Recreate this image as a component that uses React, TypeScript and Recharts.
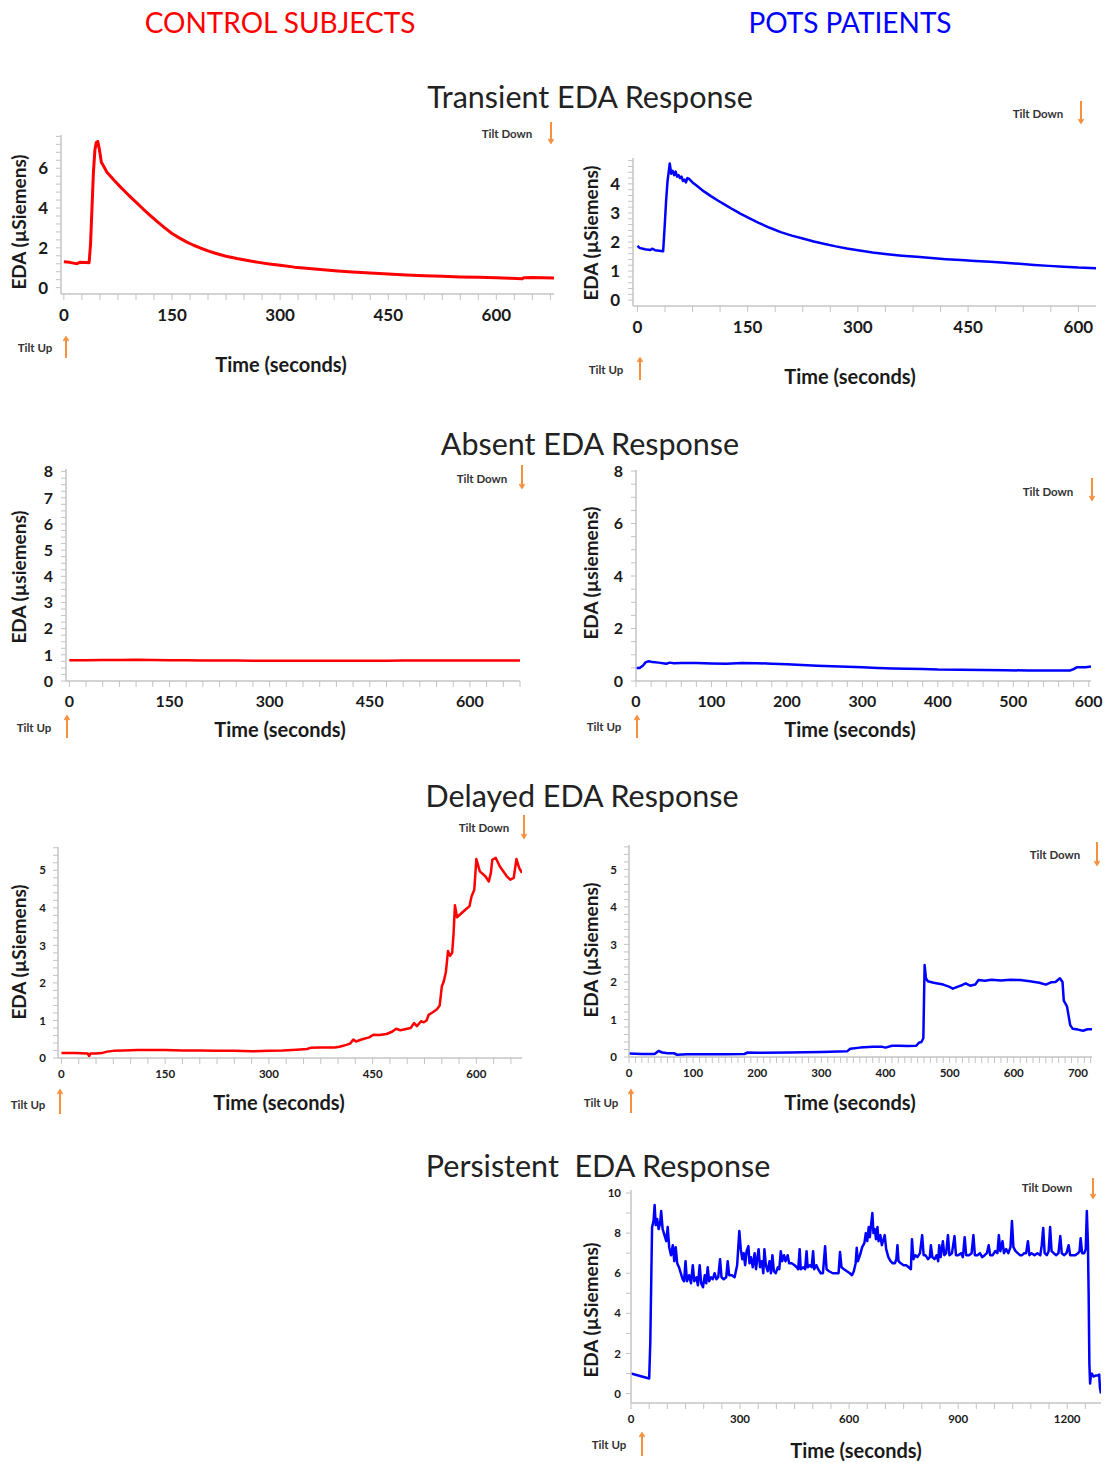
import React from 'react'
import { LineChart, Line, XAxis, YAxis } from 'recharts'

const FONT = 'Lato, "Open Sans", sans-serif'
const RED = '#ff0000'
const BLUE = '#0000ff'
const ORANGE = '#f5903f'
const AXIS = '#c4c4c4'

// [time (s), EDA (µS)]
const transientControl: [number, number][] = [
  [0, 1.3], [8, 1.27], [15, 1.22], [18, 1.2], [22, 1.27], [30, 1.26], [35, 1.25], [37, 2.2],
  [39, 4.0], [41, 5.8], [43, 6.9], [45, 7.3], [47, 7.35], [49, 7.0], [52, 6.3], [56, 6.05],
  [60, 5.78], [70, 5.38], [80, 5.0], [90, 4.64], [100, 4.3], [110, 3.95], [120, 3.62],
  [130, 3.3], [140, 3.0], [150, 2.72], [160, 2.5], [170, 2.3], [180, 2.13], [190, 1.98],
  [200, 1.85], [210, 1.73], [225, 1.58], [240, 1.46], [255, 1.36], [270, 1.27], [285, 1.19],
  [300, 1.12], [320, 1.03], [340, 0.96], [360, 0.9], [380, 0.84], [400, 0.79], [425, 0.73],
  [450, 0.68], [475, 0.64], [500, 0.6], [525, 0.57], [550, 0.54], [575, 0.52], [600, 0.5],
  [620, 0.47], [636, 0.45], [638, 0.5], [650, 0.51], [665, 0.5], [680, 0.49],
]

const transientPots: [number, number][] = [
  [0, 1.87], [3, 1.8], [10, 1.75], [18, 1.73], [20, 1.77], [24, 1.72], [30, 1.7], [35, 1.68],
  [37, 2.5], [39, 3.4], [41, 4.1], [43, 4.5], [44, 4.7], [46, 4.35], [48, 4.45], [50, 4.3],
  [52, 4.42], [54, 4.25], [56, 4.3], [58, 4.2], [60, 4.25], [62, 4.1], [64, 4.15], [66, 4.05],
  [68, 4.2], [70, 4.18], [75, 4.05], [80, 3.95], [90, 3.75], [100, 3.58], [110, 3.42],
  [120, 3.27], [130, 3.12], [140, 2.98], [150, 2.85], [165, 2.66], [180, 2.49], [195, 2.34],
  [210, 2.22], [225, 2.12], [240, 2.02], [255, 1.93], [270, 1.85], [285, 1.78], [300, 1.72],
  [320, 1.64], [340, 1.58], [360, 1.53], [380, 1.49], [400, 1.45], [420, 1.41], [440, 1.38],
  [460, 1.35], [480, 1.32], [500, 1.29], [520, 1.25], [540, 1.21], [560, 1.18], [580, 1.15],
  [600, 1.12], [624, 1.1],
]

const absentControl: [number, number][] = [
  [0, 0.79], [25, 0.79], [50, 0.8], [75, 0.8], [100, 0.81], [125, 0.8], [150, 0.79],
  [175, 0.79], [200, 0.78], [225, 0.78], [250, 0.78], [275, 0.77], [300, 0.77], [325, 0.77],
  [350, 0.77], [375, 0.77], [400, 0.77], [425, 0.77], [450, 0.77], [475, 0.77], [500, 0.78],
  [525, 0.78], [550, 0.78], [575, 0.78], [600, 0.78], [625, 0.78], [650, 0.78], [675, 0.78],
]

const absentPots: [number, number][] = [
  [0, 0.5], [5, 0.5], [9, 0.58], [13, 0.72], [17, 0.75], [22, 0.72], [30, 0.7], [40, 0.66],
  [45, 0.7], [50, 0.68], [60, 0.69], [80, 0.69], [100, 0.67], [120, 0.66], [140, 0.69],
  [160, 0.68], [180, 0.66], [200, 0.64], [220, 0.61], [240, 0.58], [260, 0.56], [280, 0.54],
  [300, 0.52], [320, 0.5], [340, 0.48], [360, 0.47], [380, 0.46], [400, 0.44], [430, 0.43],
  [460, 0.42], [490, 0.41], [520, 0.4], [550, 0.4], [575, 0.4], [580, 0.45], [584, 0.52],
  [590, 0.52], [596, 0.52], [603, 0.55],
]

const delayedControl: [number, number][] = [
  [0, 0.13], [20, 0.13], [38, 0.12], [40, 0.05], [42, 0.12], [50, 0.12], [58, 0.13],
  [66, 0.17], [75, 0.19], [90, 0.2], [110, 0.21], [130, 0.21], [150, 0.21], [175, 0.2],
  [200, 0.2], [225, 0.19], [250, 0.19], [275, 0.18], [300, 0.19], [320, 0.2], [340, 0.22],
  [355, 0.24], [360, 0.27], [375, 0.28], [395, 0.28], [402, 0.3], [412, 0.35], [418, 0.39],
  [422, 0.49], [426, 0.44], [435, 0.5], [445, 0.55], [451, 0.62], [460, 0.61], [470, 0.64],
  [478, 0.7], [484, 0.78], [490, 0.74], [500, 0.78], [505, 0.8], [510, 0.93], [514, 0.85],
  [520, 0.98], [524, 0.95], [528, 1.0], [531, 1.15], [537, 1.22], [543, 1.3], [547, 1.4],
  [550, 1.9], [553, 2.05], [556, 2.3], [559, 2.85], [562, 2.72], [565, 2.8], [567, 3.3],
  [569, 4.07], [572, 3.75], [578, 3.85], [584, 3.95], [590, 4.04], [593, 4.3], [597, 4.48],
  [600, 5.3], [605, 4.97], [613, 4.84], [618, 4.7], [621, 4.93], [623, 5.28], [628, 5.33],
  [634, 5.1], [644, 4.84], [649, 4.75], [654, 4.8], [658, 5.3], [662, 5.06], [666, 4.93],
]

const delayedPots: [number, number][] = [
  [0, 0.09], [20, 0.08], [40, 0.08], [46, 0.16], [52, 0.12], [60, 0.1], [70, 0.1], [75, 0.06],
  [90, 0.07], [120, 0.07], [150, 0.07], [180, 0.08], [185, 0.12], [200, 0.11], [250, 0.12],
  [300, 0.13], [340, 0.15], [345, 0.22], [360, 0.25], [380, 0.27], [395, 0.27], [400, 0.25],
  [410, 0.3], [420, 0.3], [435, 0.29], [448, 0.3], [452, 0.38], [456, 0.4], [459, 0.5],
  [460, 1.5], [461, 2.45], [463, 2.1], [466, 2.02], [475, 1.98], [490, 1.93], [500, 1.87],
  [505, 1.82], [512, 1.87], [520, 1.92], [525, 1.96], [532, 1.9], [540, 1.93], [545, 2.05],
  [555, 2.03], [565, 2.06], [580, 2.04], [595, 2.06], [610, 2.05], [625, 2.02], [640, 1.98],
  [650, 1.93], [658, 1.99], [665, 2.0], [672, 2.1], [676, 2.0], [678, 1.5], [683, 1.35],
  [688, 0.85], [692, 0.75], [700, 0.73], [708, 0.7], [715, 0.74], [722, 0.74],
]

const persistentPots: [number, number][] = [
  [0, 1.0], [20, 0.9], [40, 0.8], [50, 0.75], [53, 2.5], [56, 6.0], [58, 8.3], [62, 8.6],
  [65, 9.4], [68, 8.4], [72, 8.7], [76, 8.2], [80, 8.5], [83, 9.1], [87, 8.2], [92, 7.9],
  [97, 7.6], [101, 8.3], [105, 7.3], [110, 6.9], [115, 7.4], [119, 6.6], [123, 7.3],
  [127, 6.5], [132, 6.3], [137, 6.0], [142, 5.7], [146, 5.6], [150, 6.6], [154, 5.6],
  [160, 5.9], [165, 5.5], [170, 6.4], [174, 5.6], [180, 5.8], [184, 5.4], [189, 6.4],
  [193, 5.5], [198, 5.3], [203, 5.9], [207, 5.5], [211, 6.3], [215, 5.6], [220, 5.8],
  [225, 5.7], [230, 6.0], [235, 5.7], [240, 5.8], [245, 6.7], [249, 5.8], [255, 5.7],
  [262, 5.8], [266, 6.6], [270, 5.9], [278, 5.9], [285, 5.8], [292, 6.4], [298, 8.1],
  [302, 7.2], [306, 6.7], [310, 7.0], [314, 6.4], [318, 7.1], [323, 7.35], [326, 6.5],
  [330, 6.8], [335, 6.3], [340, 7.0], [344, 6.2], [348, 6.8], [351, 7.2], [355, 6.3],
  [360, 6.6], [364, 6.0], [367, 7.2], [371, 6.4], [376, 6.1], [381, 6.6], [385, 6.0],
  [389, 6.9], [393, 6.1], [398, 6.0], [404, 6.3], [408, 6.2], [412, 7.1], [416, 6.6],
  [421, 6.9], [425, 6.6], [431, 6.9], [435, 6.5], [442, 6.5], [450, 6.4], [456, 6.3],
  [460, 6.2], [464, 7.2], [467, 6.2], [474, 6.3], [479, 6.2], [483, 7.1], [486, 6.3],
  [492, 6.4], [497, 6.3], [501, 7.1], [504, 6.2], [510, 6.4], [515, 6.2], [522, 6.0],
  [528, 6.0], [534, 7.35], [538, 6.2], [545, 6.1], [555, 6.0], [565, 6.0], [571, 6.0],
  [575, 7.06], [579, 6.3], [586, 6.2], [594, 6.1], [602, 6.0], [608, 5.9], [613, 6.1],
  [618, 6.5], [621, 7.27], [624, 6.6], [630, 6.9], [636, 7.3], [642, 7.5], [646, 8.0],
  [650, 7.6], [654, 8.3], [657, 7.8], [661, 8.5], [664, 9.0], [667, 8.0], [671, 8.2],
  [674, 7.7], [678, 8.3], [681, 7.6], [686, 7.9], [690, 7.4], [695, 7.7], [698, 7.9],
  [702, 7.2], [708, 6.8], [714, 6.6], [720, 6.5], [726, 6.5], [730, 6.7], [733, 7.4],
  [736, 6.6], [742, 6.5], [750, 6.4], [757, 6.4], [764, 6.3], [770, 6.2], [773, 7.7],
  [777, 6.7], [782, 6.9], [788, 6.8], [795, 7.0], [801, 7.9], [805, 6.9], [810, 6.9],
  [817, 6.7], [822, 6.8], [825, 7.4], [829, 6.8], [835, 6.7], [841, 6.9], [845, 6.6],
  [848, 7.4], [852, 6.8], [858, 7.6], [862, 6.9], [867, 7.0], [872, 7.9], [876, 6.9],
  [883, 7.0], [890, 7.85], [894, 6.9], [900, 6.9], [908, 7.0], [913, 6.8], [918, 7.8],
  [922, 6.9], [930, 6.9], [937, 7.0], [942, 7.9], [946, 6.9], [953, 6.9], [960, 7.0],
  [966, 6.8], [973, 6.9], [979, 7.0], [984, 7.4], [988, 6.9], [995, 6.9], [1002, 7.1],
  [1008, 7.0], [1012, 7.9], [1016, 7.1], [1022, 7.6], [1026, 7.0], [1032, 7.2], [1038, 7.0],
  [1044, 7.3], [1048, 8.6], [1052, 7.3], [1058, 7.1], [1064, 7.0], [1070, 6.9], [1076, 6.9],
  [1082, 7.0], [1087, 7.0], [1092, 7.6], [1096, 6.9], [1102, 7.0], [1110, 6.9], [1118, 7.0],
  [1126, 6.9], [1130, 7.4], [1134, 8.26], [1138, 7.0], [1144, 6.9], [1149, 7.1], [1153, 8.3],
  [1157, 7.1], [1163, 7.0], [1170, 6.9], [1176, 7.0], [1181, 7.85], [1185, 7.0], [1192, 6.9],
  [1198, 7.0], [1204, 7.4], [1208, 6.9], [1215, 6.9], [1222, 6.9], [1230, 7.0], [1234, 7.1],
  [1237, 7.75], [1241, 7.0], [1247, 7.0], [1251, 7.2], [1254, 9.1], [1257, 7.5], [1259, 5.0],
  [1261, 1.5], [1263, 0.5], [1265, 0.9], [1268, 1.0], [1272, 0.85], [1278, 0.9], [1284, 0.9],
  [1288, 0.95], [1290, 0.3], [1293, 0.0],
]

// tick labels
const xMajor150 = [0, 150, 300, 450, 600]
const xMajor100 = [0, 100, 200, 300, 400, 500, 600]
const xMajor100to700 = [0, 100, 200, 300, 400, 500, 600, 700]
const xMajor300 = [0, 300, 600, 900, 1200]
const yMajor0to6 = [0, 2, 4, 6]
const yMajor0to4 = [0, 1, 2, 3, 4]
const yMajor0to8 = [0, 1, 2, 3, 4, 5, 6, 7, 8]
const yMajor0to8by2 = [0, 2, 4, 6, 8]
const yMajor0to5 = [0, 1, 2, 3, 4, 5]
const yMajor0to10 = [0, 2, 4, 6, 8, 10]

function steps(from: number, to: number, step: number) {
  const out: number[] = []
  for (let i = 0; from + i * step <= to + 1e-9; i++) {
    out.push(Math.round((from + i * step) * 1000) / 1000)
  }
  return out
}

type Box = { left: number; top: number; right: number; bottom: number }

type ChartProps = {
  data: [number, number][]
  color: string
  box: Box
  xDomain: [number, number]
  yDomain: [number, number]
  xMajor: number[]
  xMinor: number
  yMajor: number[]
  yMinor: number
  fontSize: number
  xGap: number
  yGap: number
  width?: number
}

const ML = 50
const MR = 24
const MT = 14
const MB = 36

function EdaChart(p: ChartProps) {
  const rows = p.data.map(([t, v]) => ({ t, v }))
  const w = p.box.right - p.box.left
  const h = p.box.bottom - p.box.top
  const xTicks = steps(0, p.xDomain[1], p.xMinor).filter((v) => v >= p.xDomain[0])
  const yTicks = steps(0, p.yDomain[1], p.yMinor).filter((v) => v >= p.yDomain[0])
  const isMajor = (list: number[], v: number) => list.some((m) => Math.abs(m - v) < 1e-6)

  const xTick = (props: any) => {
    const { x, y, payload } = props
    if (!isMajor(p.xMajor, payload.value)) return <g />
    return (
      <text x={x} y={y} dy="0.71em" textAnchor="middle" fontFamily={FONT} fontWeight={700}
        fontSize={p.fontSize} fill="#1a1a1a">
        {payload.value}
      </text>
    )
  }
  const yTick = (props: any) => {
    const { x, y, payload } = props
    if (!isMajor(p.yMajor, payload.value)) return <g />
    return (
      <text x={x} y={y} dy="0.36em" textAnchor="end" fontFamily={FONT} fontWeight={700}
        fontSize={p.fontSize} fill="#1a1a1a">
        {payload.value}
      </text>
    )
  }

  return (
    <div style={{ position: 'absolute', left: p.box.left - ML, top: p.box.top - MT }}>
      <LineChart width={w + ML + MR} height={h + MT + MB} data={rows}
        margin={{ top: MT, right: MR, bottom: 0, left: 0 }}>
        <XAxis type="number" dataKey="t" domain={p.xDomain} ticks={xTicks} interval={0}
          allowDataOverflow height={MB} tickSize={6} tickMargin={p.xGap}
          axisLine={{ stroke: AXIS, strokeWidth: 1.5 }} tickLine={{ stroke: AXIS }} tick={xTick} />
        <YAxis type="number" domain={p.yDomain} ticks={yTicks} interval={0} allowDataOverflow
          width={ML} tickSize={5} tickMargin={p.yGap}
          axisLine={{ stroke: AXIS, strokeWidth: 1.5 }} tickLine={{ stroke: AXIS }} tick={yTick} />
        <Line type="linear" dataKey="v" stroke={p.color} strokeWidth={p.width ?? 2.5} dot={false}
          isAnimationActive={false} strokeLinejoin="round" />
      </LineChart>
    </div>
  )
}

function Tilt({ label, tx, ty, ax, y1, y2, up }: { label: string; tx: number; ty: number; ax: number; y1: number; y2: number; up?: boolean }) {
  const head = up
    ? `M${ax - 2.5},${y1 + 4} L${ax},${y1} L${ax + 2.5},${y1 + 4}`
    : `M${ax - 2.5},${y2 - 4} L${ax},${y2} L${ax + 2.5},${y2 - 4}`
  return (
    <>
      <div style={{ position: 'absolute', left: tx, top: ty, transform: 'translate(-50%,-50%)',
        fontFamily: FONT, fontWeight: 700, fontSize: 11.5, color: '#333', whiteSpace: 'nowrap' }}>
        {label}
      </div>
      <svg style={{ position: 'absolute', left: 0, top: 0, overflow: 'visible' }} width={1} height={1}>
        <line x1={ax} y1={y1} x2={ax} y2={y2} stroke={ORANGE} strokeWidth={2} />
        <path d={head} stroke={ORANGE} strokeWidth={1.5} fill="none" />
      </svg>
    </>
  )
}

function Text({ x, y, size, children, color = '#1a1a1a', weight = 700, rotate }: any) {
  return (
    <div style={{ position: 'absolute', left: x, top: y,
      transform: `translate(-50%,-50%)${rotate ? ' rotate(-90deg)' : ''}`,
      fontFamily: FONT, fontWeight: weight, fontSize: size, color, whiteSpace: 'pre' }}>
      {children}
    </div>
  )
}

export default function App() {
  return (
    <div style={{ position: 'absolute', left: 0, top: 0, width: 1110, height: 1463,
      background: '#fff', overflow: 'hidden' }}>
      <Text x={280} y={22} size={28} weight={400} color={RED}>CONTROL SUBJECTS</Text>
      <Text x={850} y={22} size={28} weight={400} color={BLUE}>POTS PATIENTS</Text>

      <Text x={590} y={96} size={30.5} weight={400} color="#222">Transient EDA Response</Text>
      <Text x={590} y={443} size={30.5} weight={400} color="#222">Absent EDA Response</Text>
      <Text x={582} y={795} size={30.5} weight={400} color="#222">Delayed EDA Response</Text>
      <Text x={598} y={1165} size={30.5} weight={400} color="#222">{'Persistent  EDA Response'}</Text>

      {/* Transient */}
      <EdaChart data={transientControl} color={RED} width={3}
        box={{ left: 61, top: 135, right: 554, bottom: 294 }}
        xDomain={[-4, 680]} yDomain={[-0.32, 7.67]} xMajor={xMajor150} xMinor={25}
        yMajor={yMajor0to6} yMinor={0.4} fontSize={17} xGap={9} yGap={8} />
      <Text x={18} y={222} size={19} rotate>EDA (µSiemens)</Text>
      <Text x={281} y={364} size={20}>Time (seconds)</Text>
      <Tilt label="Tilt Down" tx={507} ty={133} ax={551} y1={122} y2={143} />
      <Tilt label="Tilt Up" tx={35} ty={347} ax={66} y1={337} y2={358} up />

      <EdaChart data={transientPots} color={BLUE}
        box={{ left: 633, top: 158, right: 1096, bottom: 306 }}
        xDomain={[-6, 624]} yDomain={[-0.2, 4.89]} xMajor={xMajor150} xMinor={37.5}
        yMajor={yMajor0to4} yMinor={0.2} fontSize={17} xGap={9} yGap={8} />
      <Text x={590} y={233} size={19} rotate>EDA (µSiemens)</Text>
      <Text x={850} y={376} size={20}>Time (seconds)</Text>
      <Tilt label="Tilt Down" tx={1038} ty={113} ax={1081} y1={101} y2={123} />
      <Tilt label="Tilt Up" tx={606} ty={369} ax={640} y1={358} y2={380} up />

      {/* Absent */}
      <EdaChart data={absentControl} color={RED}
        box={{ left: 66, top: 469, right: 520, bottom: 681 }}
        xDomain={[-5, 675]} yDomain={[0, 8.1]} xMajor={xMajor150} xMinor={25}
        yMajor={yMajor0to8} yMinor={0.25} fontSize={16} xGap={9} yGap={8} />
      <Text x={18} y={577} size={19} rotate>EDA (µsiemens)</Text>
      <Text x={280} y={729} size={20}>Time (seconds)</Text>
      <Tilt label="Tilt Down" tx={482} ty={478} ax={522} y1={465} y2={488} />
      <Tilt label="Tilt Up" tx={34} ty={727} ax={67} y1={716} y2={738} up />

      <EdaChart data={absentPots} color={BLUE}
        box={{ left: 636, top: 470, right: 1091, bottom: 681 }}
        xDomain={[0, 603]} yDomain={[0, 8.04]} xMajor={xMajor100} xMinor={20}
        yMajor={yMajor0to8by2} yMinor={0.5} fontSize={16} xGap={9} yGap={8} />
      <Text x={590} y={573} size={19} rotate>EDA (µsiemens)</Text>
      <Text x={850} y={729} size={20}>Time (seconds)</Text>
      <Tilt label="Tilt Down" tx={1048} ty={491} ax={1092} y1={478} y2={500} />
      <Tilt label="Tilt Up" tx={604} ty={726} ax={637} y1={716} y2={738} up />

      {/* Delayed */}
      <EdaChart data={delayedControl} color={RED}
        box={{ left: 58, top: 847, right: 522, bottom: 1058 }}
        xDomain={[-5, 666]} yDomain={[0, 5.62]} xMajor={xMajor150} xMinor={25}
        yMajor={yMajor0to5} yMinor={0.2} fontSize={11.5} xGap={6} yGap={7} />
      <Text x={18} y={952} size={19} rotate>EDA (µSiemens)</Text>
      <Text x={279} y={1102} size={20}>Time (seconds)</Text>
      <Tilt label="Tilt Down" tx={484} ty={827} ax={524} y1={815} y2={838} />
      <Tilt label="Tilt Up" tx={28} ty={1104} ax={60} y1={1090} y2={1114} up />

      <EdaChart data={delayedPots} color={BLUE}
        box={{ left: 629, top: 845, right: 1092, bottom: 1057 }}
        xDomain={[0, 722]} yDomain={[0, 5.65]} xMajor={xMajor100to700} xMinor={10}
        yMajor={yMajor0to5} yMinor={0.2} fontSize={11.5} xGap={6} yGap={7} />
      <Text x={590} y={950} size={19} rotate>EDA (µSiemens)</Text>
      <Text x={850} y={1102} size={20}>Time (seconds)</Text>
      <Tilt label="Tilt Down" tx={1055} ty={854} ax={1097} y1={842} y2={865} />
      <Tilt label="Tilt Up" tx={601} ty={1102} ax={631} y1={1090} y2={1113} up />

      {/* Persistent */}
      <EdaChart data={persistentPots} color={BLUE}
        box={{ left: 631, top: 1190, right: 1101, bottom: 1403 }}
        xDomain={[0, 1293]} yDomain={[-0.47, 10.15]} xMajor={xMajor300} xMinor={50}
        yMajor={yMajor0to10} yMinor={1} fontSize={11.5} xGap={6} yGap={5} />
      <Text x={590} y={1310} size={19} rotate>EDA (µSiemens)</Text>
      <Text x={856} y={1450} size={20}>Time (seconds)</Text>
      <Tilt label="Tilt Down" tx={1047} ty={1187} ax={1093} y1={1178} y2={1198} />
      <Tilt label="Tilt Up" tx={609} ty={1444} ax={642} y1={1433} y2={1456} up />
    </div>
  )
}
